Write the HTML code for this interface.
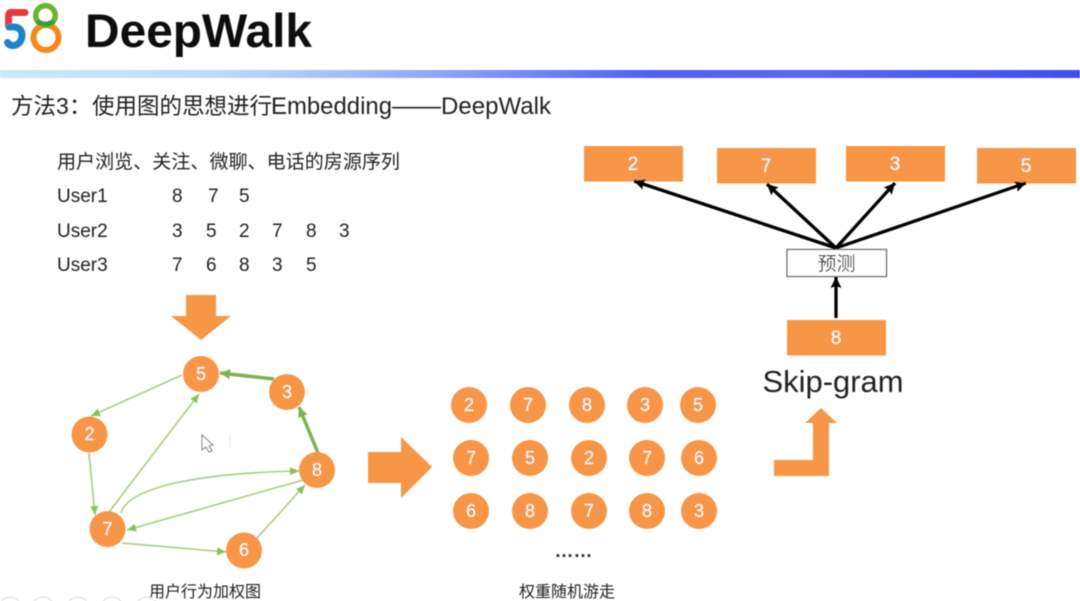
<!DOCTYPE html>
<html><head><meta charset="utf-8">
<style>
html,body{margin:0;padding:0;background:#fff}
svg{display:block}
text{font-family:"Liberation Sans","Noto Sans CJK SC",sans-serif}
</style></head>
<body>
<svg width="1080" height="601" viewBox="0 0 1080 601" xmlns="http://www.w3.org/2000/svg">
<defs>
<linearGradient id="bar" x1="0" x2="1" y1="0" y2="0">
<stop offset="0" stop-color="#c6e9fb"/><stop offset="0.2" stop-color="#bcdcfb"/><stop offset="0.4" stop-color="#8fa8f8"/><stop offset="0.6" stop-color="#5060f2"/><stop offset="0.75" stop-color="#5a68f0"/><stop offset="1" stop-color="#3f4ef0"/>
</linearGradient>
<marker id="g" markerUnits="userSpaceOnUse" markerWidth="10" markerHeight="10" refX="9" refY="4" orient="auto"><path d="M0 0L9 4L0 8Z" fill="#8fbf5a"/></marker>
<marker id="G" markerUnits="userSpaceOnUse" markerWidth="12" markerHeight="12" refX="10" refY="5" orient="auto"><path d="M0 0L10 5L0 10Z" fill="#7fb152"/></marker>
<marker id="k" markerUnits="userSpaceOnUse" markerWidth="13" markerHeight="13" refX="11" refY="5.500" orient="auto"><path d="M0 0L11 5.500L0 11L2 5.500Z" fill="#000"/></marker>
<filter id="b"><feGaussianBlur stdDeviation="0.5"/></filter>
</defs>
<rect width="1080" height="601" fill="#fff"/>
<g filter="url(#b)">
<!-- logo -->
<g fill="none">
<path d="M25 12.500H11C9 12.500 8.500 14 8.500 16V26" stroke="#e8383d" stroke-width="7" stroke-linecap="round"/>
<path d="M9 27H14C20 27 22 31 22 35.500C22 41 18 45.500 13 45.500C10.500 45.500 8.500 44.500 7.500 42.500" stroke="#1a84c9" stroke-width="7" stroke-linecap="round"/>
<circle cx="46" cy="37.500" r="12.500" stroke="#f58a1f" stroke-width="6"/>
<circle cx="45.500" cy="15.500" r="9.800" stroke="#6ab52e" stroke-width="5.500"/>
<path d="M37 21Q45.500 27 54 21" stroke="#3f9a35" stroke-width="5"/>
</g>
<text x="85" y="47" font-size="47" font-weight="700" fill="#0a0a0a" textLength="227" lengthAdjust="spacingAndGlyphs">DeepWalk</text>
<rect x="0" y="70" width="1080" height="8" fill="url(#bar)"/>
<!-- title -->
<g fill="#222">
<text x="11" y="114" font-size="22.500">方法</text>
<text x="56" y="114" font-size="23">3</text>
<text x="69" y="114" font-size="22.500">：</text>
<text x="92" y="114" font-size="22.500">使用图的思想进行</text>
<text x="271" y="114" font-size="24" textLength="121" lengthAdjust="spacingAndGlyphs">Embedding</text>
<text x="392" y="114" font-size="24.500">——</text>
<text x="441" y="114" font-size="24" textLength="110" lengthAdjust="spacingAndGlyphs">DeepWalk</text>
</g>
<text x="57" y="168" font-size="19" fill="#222" textLength="343" lengthAdjust="spacingAndGlyphs">用户浏览、关注、微聊、电话的房源序列</text>
<g font-size="19" fill="#222">
<text x="57" y="202">User1</text><text x="172" y="202">8</text><text x="208" y="202">7</text><text x="239" y="202">5</text>
<text x="57" y="237">User2</text><text x="172" y="237">3</text><text x="206" y="237">5</text><text x="239" y="237">2</text><text x="272" y="237">7</text><text x="306" y="237">8</text><text x="339" y="237">3</text>
<text x="57" y="271">User3</text><text x="172" y="271">7</text><text x="206" y="271">6</text><text x="239" y="271">8</text><text x="272" y="271">3</text><text x="306" y="271">5</text>
</g>
<!-- big arrows -->
<g fill="#f79646">
<path d="M186 295H216V316H231L201 340L171 316H186Z"/>
<path d="M368 452H401V437L432 467L401 498V483H368Z"/>
<path d="M774 460H813V423H805L821 408L837 423H829V476H774Z"/>
</g>
<!-- graph edges -->
<g fill="none" stroke="#a9cc85" stroke-width="1.600">
<path d="M182 375L91 416" marker-end="url(#g)"/>
<path d="M89 453L95 515" marker-end="url(#g)"/>
<path d="M109 512L199 394" marker-end="url(#g)"/>
<path d="M121 513C128 488 195 473 299 471" marker-end="url(#g)"/>
<path d="M303 480L127 530" marker-end="url(#g)"/>
<path d="M122 543L226 552" marker-end="url(#g)"/>
<path d="M257 538L305 485" marker-end="url(#g)"/>
</g>
<g fill="none" stroke="#7fb152" stroke-width="3.500">
<path d="M318 453L299 407" marker-end="url(#G)"/>
<path d="M274 379L220 373" marker-end="url(#G)"/>
</g>
<!-- cursor -->
<path d="M202 435V450L206 447L209 452L212 451L209 446L213 445Z" fill="#fff" stroke="#777" stroke-width="1"/>
<path d="M230 435V448" stroke="#e6e6e6"/>
<!-- nodes -->
<g fill="#f79646">
<circle cx="201" cy="374" r="18"/><circle cx="287" cy="392" r="18"/><circle cx="89.500" cy="434.500" r="18"/><circle cx="317" cy="470" r="18"/><circle cx="107.500" cy="529" r="18"/><circle cx="244" cy="550.500" r="18"/>
<circle cx="469" cy="405" r="18"/><circle cx="528" cy="405" r="18"/><circle cx="587" cy="405" r="18"/><circle cx="645" cy="405" r="18"/><circle cx="698" cy="405" r="18"/>
<circle cx="471" cy="458" r="18"/><circle cx="530" cy="458" r="18"/><circle cx="589" cy="458" r="18"/><circle cx="647" cy="458" r="18"/><circle cx="699" cy="458" r="18"/>
<circle cx="471" cy="511" r="18"/><circle cx="530" cy="511" r="18"/><circle cx="589" cy="511" r="18"/><circle cx="647" cy="511" r="18"/><circle cx="699" cy="511" r="18"/>
</g>
<g font-size="18" fill="#fff" text-anchor="middle">
<text x="201" y="380">5</text><text x="287" y="398">3</text><text x="89.500" y="440">2</text><text x="317" y="476">8</text><text x="107.500" y="535">7</text><text x="244" y="556">6</text>
<text x="469" y="411">2</text><text x="528" y="411">7</text><text x="587" y="411">8</text><text x="645" y="411">3</text><text x="698" y="411">5</text>
<text x="471" y="464">7</text><text x="530" y="464">5</text><text x="589" y="464">2</text><text x="647" y="464">7</text><text x="699" y="464">6</text>
<text x="471" y="517">6</text><text x="530" y="517">8</text><text x="589" y="517">7</text><text x="647" y="517">8</text><text x="699" y="517">3</text>
</g>
<text x="205" y="597" font-size="16" fill="#222" text-anchor="middle">用户行为加权图</text>
<text x="567" y="597" font-size="16" fill="#222" text-anchor="middle">权重随机游走</text>
<text x="573.500" y="557" font-size="19" font-weight="700" fill="#333" text-anchor="middle">……</text>
<!-- right diagram -->
<g fill="#f79646">
<rect x="584" y="146" width="99" height="35.500"/><rect x="717" y="148" width="99" height="35.500"/><rect x="846" y="146" width="99" height="35.500"/><rect x="977" y="148" width="99" height="35.500"/><rect x="787" y="320" width="99" height="35.500"/>
</g>
<g font-size="19" fill="#fff" text-anchor="middle">
<text x="633" y="170">2</text><text x="766" y="172">7</text><text x="895" y="170">3</text><text x="1026" y="172">5</text><text x="836" y="344">8</text>
</g>
<rect x="787" y="249.500" width="99.500" height="27" fill="#fff" stroke="#555" stroke-width="1.200"/>
<text x="836.500" y="270" font-size="19" fill="#333" text-anchor="middle">预测</text>
<g fill="none" stroke="#000" stroke-width="3.300">
<path d="M836 248L634 181" marker-end="url(#k)"/>
<path d="M836 248L767 184" marker-end="url(#k)"/>
<path d="M836 248L895 183" marker-end="url(#k)"/>
<path d="M836 248L1026 183" marker-end="url(#k)"/>
<path d="M836 318V277" marker-end="url(#k)"/>
</g>
<text x="833" y="392" font-size="31" fill="#222" text-anchor="middle" textLength="141" lengthAdjust="spacingAndGlyphs">Skip-gram</text>
<!-- bottom faint toolbar -->
<g fill="none" stroke="#ddd" stroke-width="1">
<circle cx="10" cy="608" r="11"/><circle cx="43" cy="608" r="11"/><circle cx="78" cy="608" r="11"/><circle cx="112" cy="608" r="11"/><circle cx="147" cy="608" r="11"/>
</g>
</g>
</svg>
</body></html>
